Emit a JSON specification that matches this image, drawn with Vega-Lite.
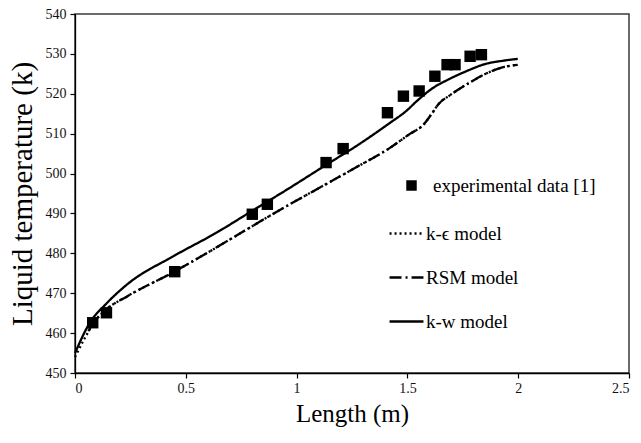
{
  "$schema": "https://vega.github.io/schema/vega-lite/v6.json",
  "width": 554,
  "height": 359,
  "autosize": {"type": "none"},
  "padding": {"left": 75, "top": 14, "right": 12, "bottom": 70},
  "background": "white",
  "config": {
    "view": {"stroke": "#3a3a3a", "strokeWidth": 1.5},
    "font": "Liberation Serif",
    "axis": {
      "labelFont": "Liberation Serif",
      "titleFont": "Liberation Serif",
      "labelColor": "#111",
      "titleColor": "#000",
      "domainColor": "#000",
      "tickColor": "#000",
      "domainWidth": 1.3,
      "tickWidth": 1.2,
      "tickSize": 5,
      "grid": false,
      "labelOverlap": false,
      "titleFontWeight": "normal"
    },
    "legend": {
      "labelFont": "Liberation Serif",
      "labelColor": "#000",
      "labelFontSize": 19,
      "labelLimit": 400,
      "padding": 0
    }
  },
  "datasets": {
    "lines": [
      {"model": "k-ϵ model", "x": 0.0, "y": 454.0},
      {"model": "k-ϵ model", "x": 0.04, "y": 458.3},
      {"model": "k-ϵ model", "x": 0.089, "y": 462.9},
      {"model": "k-ϵ model", "x": 0.138, "y": 465.8},
      {"model": "k-ϵ model", "x": 0.235, "y": 469.2},
      {"model": "k-ϵ model", "x": 0.448, "y": 475.4},
      {"model": "k-ϵ model", "x": 0.639, "y": 481.5},
      {"model": "k-ϵ model", "x": 0.833, "y": 487.9},
      {"model": "k-ϵ model", "x": 0.963, "y": 492.1},
      {"model": "k-ϵ model", "x": 1.125, "y": 497.1},
      {"model": "k-ϵ model", "x": 1.286, "y": 502.1},
      {"model": "k-ϵ model", "x": 1.416, "y": 506.25},
      {"model": "k-ϵ model", "x": 1.513, "y": 510.0},
      {"model": "k-ϵ model", "x": 1.57, "y": 512.1},
      {"model": "k-ϵ model", "x": 1.61, "y": 515.0},
      {"model": "k-ϵ model", "x": 1.642, "y": 517.5},
      {"model": "k-ϵ model", "x": 1.691, "y": 519.6},
      {"model": "k-ϵ model", "x": 1.772, "y": 522.5},
      {"model": "k-ϵ model", "x": 1.853, "y": 525.0},
      {"model": "k-ϵ model", "x": 1.934, "y": 526.7},
      {"model": "k-ϵ model", "x": 1.998, "y": 527.25},
      {"model": "RSM model", "x": 0.06, "y": 460.5},
      {"model": "RSM model", "x": 0.089, "y": 463.0},
      {"model": "RSM model", "x": 0.138, "y": 465.8},
      {"model": "RSM model", "x": 0.235, "y": 469.2},
      {"model": "RSM model", "x": 0.448, "y": 475.4},
      {"model": "RSM model", "x": 0.639, "y": 481.5},
      {"model": "RSM model", "x": 0.833, "y": 487.9},
      {"model": "RSM model", "x": 0.963, "y": 492.1},
      {"model": "RSM model", "x": 1.125, "y": 497.1},
      {"model": "RSM model", "x": 1.286, "y": 502.1},
      {"model": "RSM model", "x": 1.416, "y": 506.25},
      {"model": "RSM model", "x": 1.513, "y": 510.0},
      {"model": "RSM model", "x": 1.57, "y": 512.1},
      {"model": "RSM model", "x": 1.61, "y": 515.0},
      {"model": "RSM model", "x": 1.642, "y": 517.5},
      {"model": "RSM model", "x": 1.691, "y": 519.6},
      {"model": "RSM model", "x": 1.772, "y": 522.5},
      {"model": "RSM model", "x": 1.853, "y": 525.0},
      {"model": "RSM model", "x": 1.934, "y": 526.7},
      {"model": "RSM model", "x": 1.998, "y": 527.25},
      {"model": "k-w model", "x": 0.0, "y": 455.0},
      {"model": "k-w model", "x": 0.07, "y": 462.9},
      {"model": "k-w model", "x": 0.138, "y": 467.2},
      {"model": "k-w model", "x": 0.235, "y": 472.2},
      {"model": "k-w model", "x": 0.448, "y": 479.4},
      {"model": "k-w model", "x": 0.639, "y": 485.2},
      {"model": "k-w model", "x": 0.801, "y": 490.7},
      {"model": "k-w model", "x": 0.963, "y": 496.2},
      {"model": "k-w model", "x": 1.131, "y": 502.1},
      {"model": "k-w model", "x": 1.286, "y": 507.5},
      {"model": "k-w model", "x": 1.416, "y": 512.5},
      {"model": "k-w model", "x": 1.497, "y": 515.8},
      {"model": "k-w model", "x": 1.545, "y": 518.3},
      {"model": "k-w model", "x": 1.61, "y": 521.25},
      {"model": "k-w model", "x": 1.691, "y": 523.75},
      {"model": "k-w model", "x": 1.772, "y": 525.8},
      {"model": "k-w model", "x": 1.853, "y": 527.5},
      {"model": "k-w model", "x": 1.934, "y": 528.3},
      {"model": "k-w model", "x": 1.998, "y": 528.75}
    ],
    "points": [
      {"series": "experimental data [1]", "x": 0.08, "y": 462.6},
      {"series": "experimental data [1]", "x": 0.142, "y": 465.1},
      {"series": "experimental data [1]", "x": 0.45, "y": 475.4},
      {"series": "experimental data [1]", "x": 0.8, "y": 489.8},
      {"series": "experimental data [1]", "x": 0.868, "y": 492.3},
      {"series": "experimental data [1]", "x": 1.133, "y": 502.75},
      {"series": "experimental data [1]", "x": 1.21, "y": 506.25},
      {"series": "experimental data [1]", "x": 1.41, "y": 515.25},
      {"series": "experimental data [1]", "x": 1.482, "y": 519.4},
      {"series": "experimental data [1]", "x": 1.553, "y": 520.7},
      {"series": "experimental data [1]", "x": 1.624, "y": 524.4},
      {"series": "experimental data [1]", "x": 1.679, "y": 527.3},
      {"series": "experimental data [1]", "x": 1.715, "y": 527.3},
      {"series": "experimental data [1]", "x": 1.783, "y": 529.4},
      {"series": "experimental data [1]", "x": 1.834, "y": 529.8}
    ]
  },
  "encoding": {
    "x": {
      "field": "x", "type": "quantitative",
      "scale": {"domain": [0, 2.5], "nice": false},
      "axis": {"values": [0, 0.5, 1, 1.5, 2, 2.5], "format": "~g", "title": "Length (m)", "labelFont": "Liberation Serif", "titleFont": "Liberation Serif", "labelFontSize": 14, "titleFontSize": 25, "labelPadding": 3, "titlePadding": 6, "labelOverlap": false}
    },
    "y": {
      "field": "y", "type": "quantitative",
      "scale": {"domain": [450, 540], "nice": false, "zero": false},
      "axis": {"values": [450, 460, 470, 480, 490, 500, 510, 520, 530, 540], "tickCount": 10, "title": "Liquid temperature (k)", "labelFont": "Liberation Serif", "titleFont": "Liberation Serif", "labelFontSize": 14, "titleFontSize": 29, "labelPadding": 4, "titlePadding": 8, "labelOverlap": false}
    }
  },
  "layer": [
    {
      "data": {"name": "lines"},
      "mark": {"type": "line", "color": "#000", "strokeWidth": 2.3, "interpolate": "monotone"},
      "encoding": {
        "strokeDash": {
          "field": "model", "type": "nominal",
          "scale": {"domain": ["k-ϵ model", "RSM model", "k-w model"], "range": [[2, 3], [12, 4, 2, 4], [1, 0]]},
          "legend": {"title": null, "orient": "none", "legendX": 313, "legendY": 201, "symbolType": "stroke", "symbolSize": 1150, "symbolStrokeWidth": 2.3, "symbolStrokeColor": "#000", "labelOffset": 1, "rowPadding": 15, "labelFont": "Liberation Serif", "labelFontSize": 19, "labelLimit": 400}
        },
        "order": {"field": "x", "type": "quantitative"}
      }
    },
    {
      "data": {"name": "points"},
      "mark": {"type": "point", "shape": "square", "filled": true, "color": "#000", "size": 130, "opacity": 1},
      "encoding": {
        "shape": {
          "field": "series", "type": "nominal",
          "scale": {"range": ["square"]},
          "legend": {"title": null, "orient": "none", "legendX": 327, "legendY": 162, "symbolSize": 110, "symbolFillColor": "#000", "symbolStrokeColor": "#000", "labelOffset": 12, "labelFont": "Liberation Serif", "labelFontSize": 19, "labelLimit": 400}
        }
      }
    }
  ]
}
